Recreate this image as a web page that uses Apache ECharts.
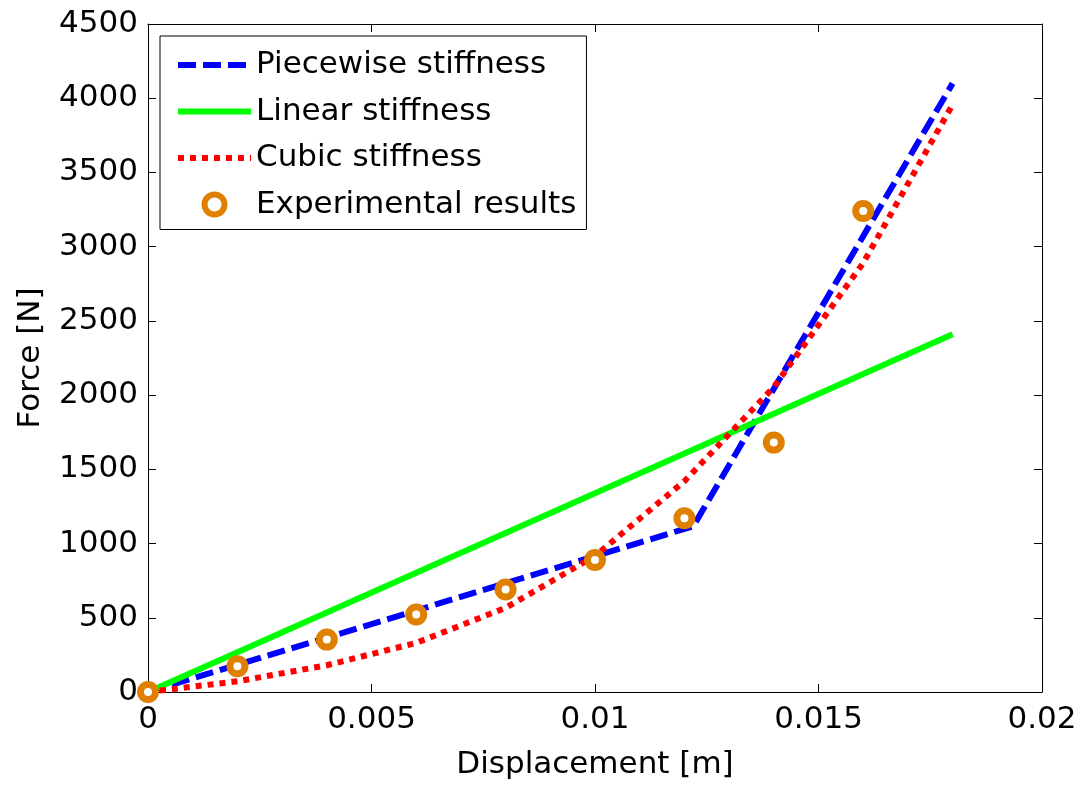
<!DOCTYPE html>
<html>
<head>
<meta charset="utf-8">
<script src="https://cdn.jsdelivr.net/npm/echarts@6/dist/echarts.min.js"></script>
<style>
html,body{margin:0;padding:0;background:#fff;}
#chart{width:1090px;height:787px;}
</style>
</head>
<body>
<div id="chart"></div>
<script>
// Data
var xTicks = [0, 0.005, 0.01, 0.015, 0.02];
var xTickLabels = ['0', '0.005', '0.01', '0.015', '0.02'];
var yTicks = [0, 500, 1000, 1500, 2000, 2500, 3000, 3500, 4000, 4500];
var yTickLabels = ['0', '500', '1000', '1500', '2000', '2500', '3000', '3500', '4000', '4500'];

var piecewiseX = [0, 0.0122, 0.018];
var piecewiseF = [0, 1117, 4100];

var linearX = [0, 0.018];
var linearF = [0, 2410];

var cubicX = [0, 0.002, 0.004, 0.006, 0.008, 0.01, 0.012, 0.014, 0.016, 0.018];
var cubicF = [0, 72, 180, 331, 567, 916, 1420, 2054, 2890, 3957];

var expX = [0, 0.002, 0.004, 0.006, 0.008, 0.01, 0.012, 0.014, 0.016];
var expF = [0, 173, 353, 522, 691, 889, 1170, 1680, 3240];

var seriesNames = ['Piecewise stiffness', 'Linear stiffness', 'Cubic stiffness', 'Experimental results'];

function pairs(xs, ys) { return xs.map(function (x, i) { return [x, ys[i]]; }); }
function labelFor(ticks, labels) {
  return function (v) {
    for (var i = 0; i < ticks.length; i++) { if (Math.abs(ticks[i] - v) < 1e-9 * Math.max(1, Math.abs(v))) return labels[i]; }
    return '';
  };
}

var FONT = 'DejaVu Sans';
var chart = echarts.init(document.getElementById('chart'), null, {renderer: 'canvas'});
var baseAxis = {
  axisLine: {show: true, onZero: false, lineStyle: {color: '#000', width: 1}},
  axisTick: {show: true, inside: true, length: 8, lineStyle: {color: '#000', width: 1}},
  splitLine: {show: false}
};
chart.setOption({
  animation: false,
  backgroundColor: '#fff',
  grid: {left: 148, right: 48, top: 24, bottom: 95, containLabel: false},
  legend: {
    show: true,
    orient: 'vertical',
    left: 160,
    top: 36,
    padding: [11, 10, 7, 15],
    itemGap: 10.5,
    itemWidth: 73,
    itemHeight: 20,
    itemTextGap: 8,
    borderColor: '#000',
    borderWidth: 1,
    backgroundColor: '#fff',
    textStyle: {fontFamily: FONT, fontSize: 31, color: '#000', lineHeight: 36},
    data: [
      {name: seriesNames[0], lineStyle: {width: 6}, itemStyle: {opacity: 0}},
      {name: seriesNames[1], lineStyle: {width: 6}, itemStyle: {opacity: 0}},
      {name: seriesNames[2], lineStyle: {width: 6}, itemStyle: {opacity: 0}},
      {name: seriesNames[3], itemStyle: {color: '#fff', borderColor: '#DF8000', borderWidth: 6}}
    ]
  },
  xAxis: [
    Object.assign({}, baseAxis, {
      type: 'value', min: 0, max: 0.02, interval: 0.005, position: 'bottom',
      name: 'Displacement [m]', nameLocation: 'middle', nameGap: 57,
      nameTextStyle: {fontFamily: FONT, fontSize: 31, color: '#000'},
      axisLabel: {show: true, margin: 12, fontFamily: FONT, fontSize: 31, color: '#000', formatter: labelFor(xTicks, xTickLabels)}
    }),
    Object.assign({}, baseAxis, {
      type: 'value', min: 0, max: 0.02, interval: 0.005, position: 'top',
      axisLabel: {show: false}
    })
  ],
  yAxis: [
    Object.assign({}, baseAxis, {
      type: 'value', min: 0, max: 4500, interval: 500, position: 'left',
      name: 'Force [N]', nameLocation: 'middle', nameGap: 102,
      nameTextStyle: {fontFamily: FONT, fontSize: 31, color: '#000'},
      axisLabel: {show: true, margin: 10, fontFamily: FONT, fontSize: 31, color: '#000', formatter: labelFor(yTicks, yTickLabels)}
    }),
    Object.assign({}, baseAxis, {
      type: 'value', min: 0, max: 4500, interval: 500, position: 'right',
      axisLabel: {show: false}
    })
  ],
  series: [
    {
      name: seriesNames[0], type: 'line', data: pairs(piecewiseX, piecewiseF),
      symbol: 'none', lineStyle: {color: '#0000FF', width: 6, type: [18, 7]}, itemStyle: {color: '#0000FF'}, z: 2
    },
    {
      name: seriesNames[1], type: 'line', data: pairs(linearX, linearF),
      symbol: 'none', lineStyle: {color: '#00FF00', width: 6, type: 'solid'}, itemStyle: {color: '#00FF00'}, z: 3
    },
    {
      name: seriesNames[2], type: 'line', data: pairs(cubicX, cubicF),
      symbol: 'none', lineStyle: {color: '#FF0000', width: 6, type: [6, 6]}, itemStyle: {color: '#FF0000'}, z: 4
    },
    {
      name: seriesNames[3], type: 'scatter', data: pairs(expX, expF), clip: false,
      symbol: 'circle', symbolSize: 15,
      itemStyle: {color: '#fff', borderColor: '#DF8000', borderWidth: 7, opacity: 1}, z: 5
    }
  ]
});
</script>
</body>
</html>
